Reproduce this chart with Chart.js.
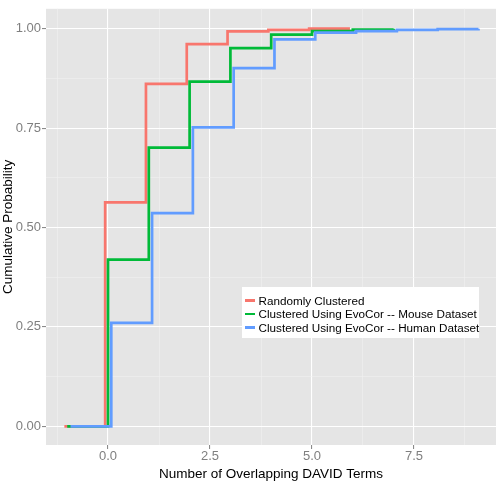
<!DOCTYPE html>
<html><head><meta charset="utf-8">
<script src="https://cdn.jsdelivr.net/npm/chart.js@4/dist/chart.umd.min.js"></script>
<style>
html,body{margin:0;padding:0;background:#fff;}
#wrap{position:relative;width:496px;height:483px;overflow:hidden;}
#legend{position:absolute;left:242px;top:287px;width:237px;height:51px;background:#fff;box-sizing:border-box;padding-top:7px;font-family:"Liberation Sans",Arial,sans-serif;font-size:11.7px;color:#000;}
.row{height:13.3px;display:flex;align-items:center;white-space:nowrap;}
.key{width:10px;height:2.6px;margin-left:2.5px;margin-right:4px;flex:none;}
</style></head><body>
<div id="wrap"><canvas id="c" width="496" height="483"></canvas><div id="legend"></div></div>
<script>
// ---- data ----
const seriesNames = ["Randomly Clustered", "Clustered Using EvoCor -- Mouse Dataset", "Clustered Using EvoCor -- Human Dataset"];
const randomTerms = [-1, 0, 1, 2, 3, 4, 5, 6];
const randomProb  = [0, 0.563, 0.861, 0.961, 0.993, 0.997, 1.0, 1.0];
const mouseTerms  = [-1, 0, 1, 2, 3, 4, 5, 6, 7];
const mouseProb   = [0, 0.419, 0.701, 0.867, 0.951, 0.985, 0.994, 0.998, 1.0];
const humanTerms  = [-1, 0, 1, 2, 3, 4, 5, 6, 7, 8, 9];
const humanProb   = [0, 0.260, 0.536, 0.752, 0.901, 0.973, 0.990, 0.994, 0.997, 0.999, 1.0];
const xMajorTicks = [0, 2.5, 5, 7.5];
const xMinorTicks = [-1.25, 1.25, 3.75, 6.25, 8.75];
const yMajorTicks = [0, 0.25, 0.5, 0.75, 1];
const yMinorTicks = [0.125, 0.375, 0.625, 0.875];

// ---- presentation ----
const dodge = [-0.07, 0, 0.08];
const colors = ["#F8766D", "#00BA38", "#619CFF"];
const FONT = '"Liberation Sans", Arial, Helvetica, sans-serif';

function pts(xs, ys, d) { return xs.map((x, i) => ({ x: x + d, y: ys[i] })); }
const seriesX = [randomTerms, mouseTerms, humanTerms];
const seriesY = [randomProb, mouseProb, humanProb];

const datasets = seriesNames.map((name, i) => ({
  label: name,
  data: pts(seriesX[i], seriesY[i], dodge[i]),
  borderColor: colors[i],
  backgroundColor: colors[i],
  borderWidth: 2.7,
  pointRadius: 0,
  stepped: 'before',
  fill: false,
  borderCapStyle: 'butt',
  borderJoinStyle: 'miter',
  order: 2 - i
}));

const isMaj = (arr, v) => arr.some(m => Math.abs(m - v) < 1e-9);

const bgPlugin = {
  id: 'panelBg',
  beforeDraw(chart) {
    const { ctx, chartArea: a } = chart;
    ctx.save();
    ctx.fillStyle = '#E5E5E5';
    ctx.fillRect(a.left, a.top, a.right - a.left, a.bottom - a.top);
    ctx.restore();
  }
};

const chart = new Chart(document.getElementById('c'), {
  type: 'line',
  data: { datasets },
  plugins: [bgPlugin],
  options: {
    responsive: false,
    animation: false,
    devicePixelRatio: 1,
    layout: { padding: 0 },
    plugins: { legend: { display: false }, tooltip: { enabled: false } },
    scales: {
      x: {
        type: 'linear', min: -1.52, max: 9.51,
        afterBuildTicks(s) { s.ticks = xMinorTicks.concat(xMajorTicks).sort((a, b) => a - b).map(v => ({ value: v })); },
        afterFit(s) { s.height = 38; },
        grid: {
          color: c => isMaj(xMajorTicks, c.tick.value) ? '#FFFFFF' : '#F2F2F2',
          lineWidth: c => isMaj(xMajorTicks, c.tick.value) ? 1.1 : 0.55,
          tickColor: c => isMaj(xMajorTicks, c.tick.value) ? '#8A8A8A' : 'rgba(0,0,0,0)',
          tickLength: 4, drawTicks: true
        },
        border: { display: false },
        ticks: {
          autoSkip: false, maxRotation: 0, padding: 0,
          color: '#7F7F7F', font: { family: FONT, size: 13 },
          callback: v => isMaj(xMajorTicks, v) ? v.toFixed(1) : ''
        },
        title: { display: true, text: 'Number of Overlapping DAVID Terms', color: '#000', font: { family: FONT, size: 13.5 }, padding: { top: 0, bottom: 1 } }
      },
      y: {
        type: 'linear', min: -0.047, max: 1.05,
        afterBuildTicks(s) { s.ticks = yMinorTicks.concat(yMajorTicks).sort((a, b) => a - b).map(v => ({ value: v })); },
        afterFit(s) { s.width = 46; },
        grid: {
          color: c => isMaj(yMajorTicks, c.tick.value) ? '#FFFFFF' : '#F2F2F2',
          lineWidth: c => isMaj(yMajorTicks, c.tick.value) ? 1.1 : 0.55,
          tickColor: c => isMaj(yMajorTicks, c.tick.value) ? '#8A8A8A' : 'rgba(0,0,0,0)',
          tickLength: 4, drawTicks: true
        },
        border: { display: false },
        ticks: {
          autoSkip: false, padding: 1,
          color: '#7F7F7F', font: { family: FONT, size: 13 },
          callback: v => isMaj(yMajorTicks, v) ? v.toFixed(2) : ''
        },
        title: { display: true, text: 'Cumulative Probability', color: '#000', font: { family: FONT, size: 13.5 }, padding: 0 }
      }
    }
  }
});

// legend built from the chart's datasets
const leg = document.getElementById('legend');
chart.data.datasets.forEach(ds => {
  const row = document.createElement('div'); row.className = 'row';
  const k = document.createElement('span'); k.className = 'key'; k.style.background = ds.borderColor;
  const t = document.createElement('span'); t.textContent = ds.label;
  row.appendChild(k); row.appendChild(t); leg.appendChild(row);
});
</script>
</body></html>
